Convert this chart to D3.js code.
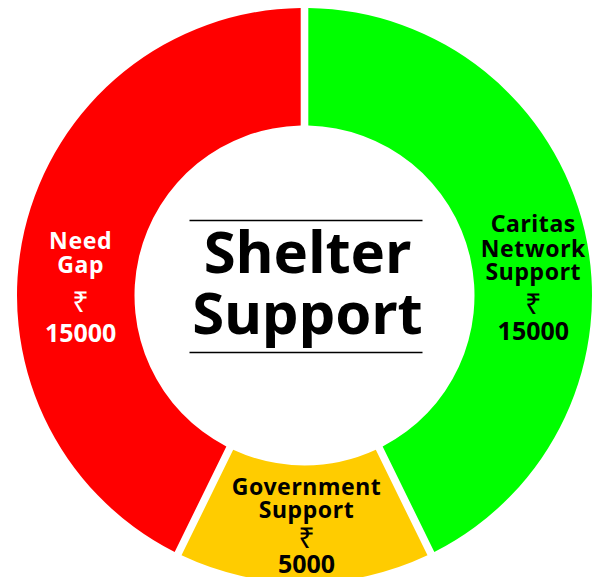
<!DOCTYPE html>
<html>
<head>
<meta charset="utf-8">
<script src="https://cdn.jsdelivr.net/npm/d3@7"></script>
<style>
html,body{margin:0;padding:0;background:#fff;}
svg{display:block;}
</style>
</head>
<body>
<svg id="chart" width="600" height="577"></svg>
<script>
const categories = ["Caritas Network Support", "Government Support", "Need Gap"];
const labelLines = [["Caritas", "Network", "Support"], ["Government", "Support"], ["Need", "Gap"]];
const values = [15000, 5000, 15000];
const colors = ["#00ff00", "#ffcc00", "#ff0000"];
const textColors = ["#000000", "#000000", "#ffffff"];
const currency = "₹";
const title = ["Shelter", "Support"];

const W = 600, H = 577;
const cx = 304.5, cy = 295.5, outerR = 287.5, innerR = 170;
const svg = d3.select("#chart");
const g = svg.append("g").attr("transform", `translate(${cx},${cy})`);

const data = categories.map((c, i) => ({ name: c, value: values[i], i }));
const pie = d3.pie().value(d => d.value).sort(null).startAngle(0).endAngle(2 * Math.PI).padAngle(0.0228);
const arc = d3.arc().innerRadius(innerR).outerRadius(outerR);
const arcs = pie(data);

g.selectAll("path.slice").data(arcs).join("path")
  .attr("class", "slice")
  .attr("d", arc)
  .attr("fill", d => colors[d.data.i]);

// label line baselines relative to centroid (style)
const lineOffsets = [
  { dx: 6, words: [-12, 13, 36], cur: 70, num: 96 },
  { dx: 2, words: [-29, -6], cur: 24, num: 49 },
  { dx: -1, words: [5, 29], cur: 68, num: 98 }
];

arcs.forEach(a => {
  const i = a.data.i;
  const [x, y] = arc.centroid(a);
  const o = lineOffsets[i];
  const lg = g.append("g").attr("fill", textColors[i])
    .attr("font-family", "'Noto Sans', 'Open Sans', sans-serif")
    .attr("font-weight", "bold")
    .attr("text-anchor", "middle");
  labelLines[i].forEach((w, k) => {
    lg.append("text").attr("x", x + o.dx).attr("y", y + o.words[k])
      .attr("font-size", 23).attr("letter-spacing", 0.6).text(w);
  });
  lg.append("text").attr("x", x + o.dx).attr("y", y + o.cur)
    .attr("font-size", 29).attr("font-weight", "normal").text(currency);
  lg.append("text").attr("x", x + o.dx).attr("y", y + o.num)
    .attr("font-size", 25).text(d3.format("")(a.data.value));
});

// center title
const tg = g.append("g");
tg.append("line").attr("x1", -115).attr("x2", 118).attr("y1", -75).attr("y2", -75)
  .attr("stroke", "#000").attr("stroke-width", 1.3);
tg.append("line").attr("x1", -115).attr("x2", 118).attr("y1", 57).attr("y2", 57)
  .attr("stroke", "#000").attr("stroke-width", 1.3);
tg.selectAll("text.title").data(title).join("text")
  .attr("class", "title")
  .attr("x", 3)
  .attr("y", (d, k) => -23 + k * 61)
  .attr("text-anchor", "middle")
  .attr("font-family", "'Noto Sans', 'Open Sans', sans-serif")
  .attr("font-weight", "bold")
  .attr("font-size", 58)
  .attr("fill", "#000")
  .text(d => d);
</script>
</body>
</html>
